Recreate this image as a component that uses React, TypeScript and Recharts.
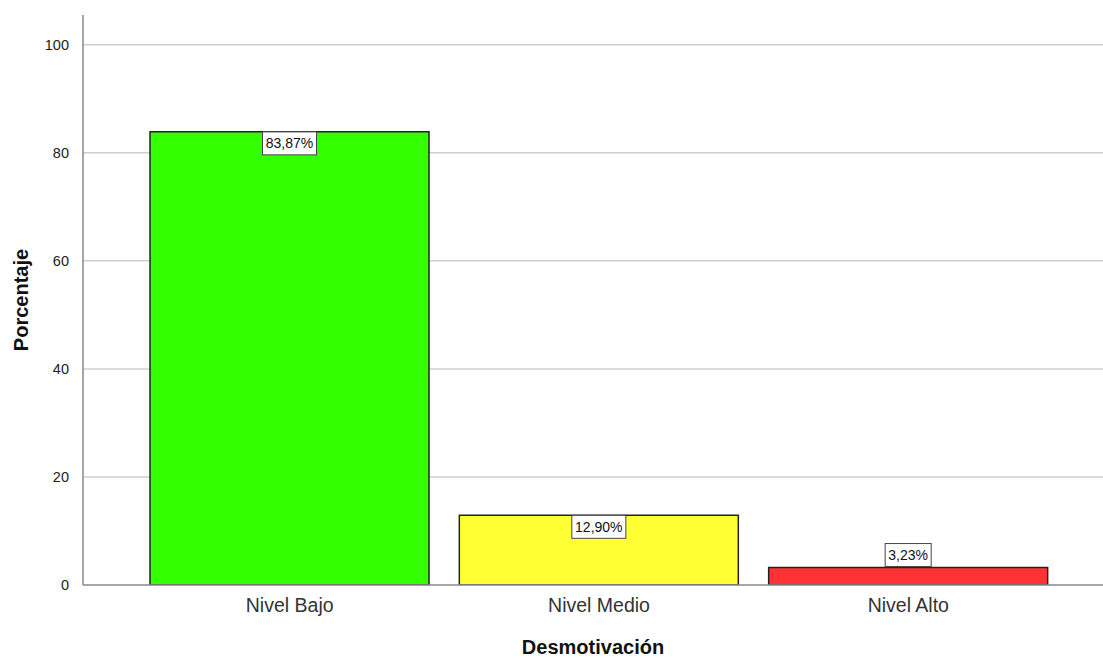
import { BarChart, Bar, XAxis, YAxis, CartesianGrid, Cell, LabelList, Label } from 'recharts'

// ── Data ──────────────────────────────────────────────────────────────────────

const categories = ['Nivel Bajo', 'Nivel Medio', 'Nivel Alto']
const percentages = [83.87, 12.9, 3.23]
const colors = ['#33ff00', '#ffff33', '#ff3333']
const yTicks = [0, 20, 40, 60, 80, 100]
const gridTicks = [20, 40, 60, 80, 100]

const data = categories.map((name, i) => ({ name, value: percentages[i] }))

const FONT = '"Liberation Sans", Arial, sans-serif'

const fmt = (v: number) => `${v.toFixed(2).replace('.', ',')}%`

// SPSS style boxed value label: inside bar top when it fits, above otherwise
function BoxLabel(props: any) {
  const { x, y, width, height, value } = props
  const text = fmt(value as number)
  const w = text.length * 8 + 6
  const h = 23
  const cx = x + width / 2
  const top = height > h + 4 ? y : y - h - 1
  return (
    <g>
      <rect x={cx - w / 2} y={top} width={w} height={h} fill="#fff" stroke="#444" strokeWidth={1} />
      <text x={cx} y={top + h / 2 + 5} textAnchor="middle" fontSize={14} fontFamily={FONT} fill="#111">
        {text}
      </text>
    </g>
  )
}

export default function App() {
  return (
    <div style={{ position: 'absolute', left: 0, top: 0, background: '#fff' }}>
      <BarChart
        width={1103}
        height={659}
        data={data}
        margin={{ top: 15, right: 0, left: 0, bottom: 0 }}
      >
        <CartesianGrid vertical={false} horizontalValues={gridTicks} stroke="#cfcfcf" strokeWidth={1.5} />
        <XAxis
          dataKey="name"
          padding={{ left: 52, right: 40 }}
          height={74}
          tickLine={false}
          axisLine={{ stroke: '#888', strokeWidth: 1.5 }}
          tick={{ fontSize: 19.5, fill: '#333', fontFamily: FONT }}
          tickMargin={7}
        >
          <Label
            value="Desmotivación"
            position="insideBottom"
            offset={5}
            style={{ fontSize: 20, fontWeight: 'bold', fill: '#111', fontFamily: FONT }}
          />
        </XAxis>
        <YAxis
          domain={[0, 105.5]}
          ticks={yTicks}
          width={83}
          tickLine={false}
          axisLine={{ stroke: '#888', strokeWidth: 1.5 }}
          tick={{ fontSize: 14.5, fill: '#222', fontFamily: FONT }}
          tickMargin={8}
          allowDataOverflow
        >
          <Label
            value="Porcentaje"
            angle={-90}
            position="insideLeft"
            offset={21}
            style={{ fontSize: 20, fontWeight: 'bold', fill: '#111', fontFamily: FONT, textAnchor: 'middle' }}
          />
        </YAxis>
        <Bar dataKey="value" barSize={279} stroke="#222" strokeWidth={1.5} isAnimationActive={false}>
          {data.map((_, i) => (
            <Cell key={i} fill={colors[i]} />
          ))}
          <LabelList dataKey="value" content={BoxLabel} />
        </Bar>
      </BarChart>
    </div>
  )
}
